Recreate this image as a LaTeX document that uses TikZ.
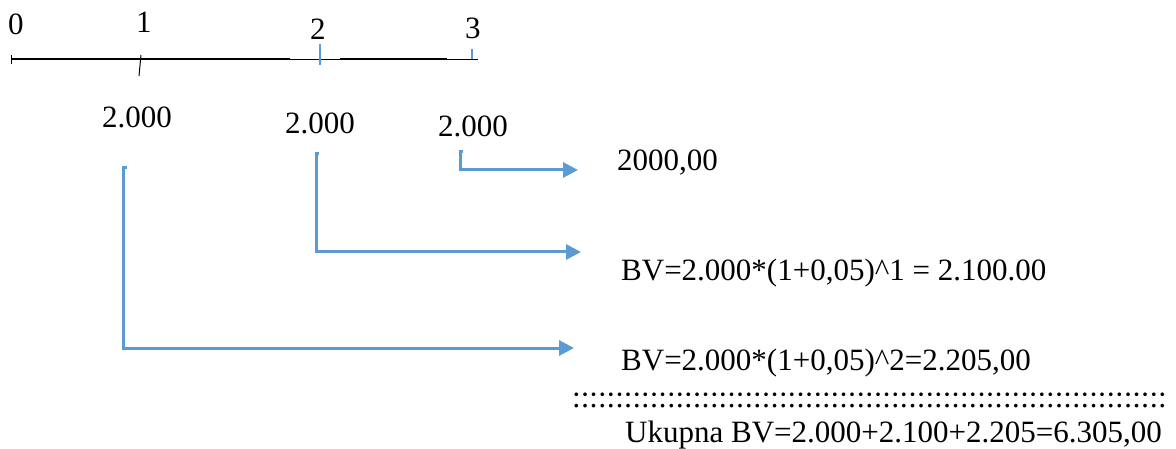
\documentclass[tikz,border=0pt]{standalone}
\usepackage{fontspec}
\setmainfont{Liberation Serif}
\usetikzlibrary{arrows.meta, positioning, calc}
\definecolor{flowblue}{RGB}{91,155,213}

\begin{document}
\begin{tikzpicture}[x=1pt, y=-1pt, every node/.style={font=\fontsize{31}{37}\selectfont, inner sep=0pt, anchor=base west},
  flow/.style={draw=flowblue, line width=3pt, -{Triangle[length=15pt,width=15pt]}},
  tick/.style={draw=flowblue, line width=2pt}]
\useasboundingbox (0,0) rectangle (1176,449);

% time axis
\coordinate (p0) at (11,59);
\coordinate (p1) at (140,59);
\coordinate (p2) at (320,59);
\coordinate (p3) at (472,59);
\draw[line width=1.6pt] (p0) -- (290,59);
\draw[line width=0.8pt] (290,59) -- (340,59);
\draw[line width=1.6pt] (340,59) -- (447,59);
\draw[line width=0.8pt] (447,59) -- (478,59);
\draw[line width=1pt] ([yshift=-5pt]p0) -- ([yshift=4pt]p0);
\draw[line width=1pt] (141,55) -- (139,76);
\draw[tick] ([yshift=-6pt]p2) -- ([yshift=15pt]p2);
\draw[tick] (p3) -- ([yshift=10pt]p3);

\node (t0) at (8,35) {0};
\node (t1) at (136,33) {1};
\node (t2) at (310,40) {2};
\node (t3) at (465,39) {3};

% payments
\node (a1) at (102,128) {2.000};
\node (a2) at (285,134) {2.000};
\node (a3) at (438,137) {2.000};

% results
\node (r3) at (617,171) {2000,00};
\node (r2) at (621,280) {BV=2.000*(1+0,05)\^{}1 = 2.100.00};
\node (r1) at (621,370) {BV=2.000*(1+0,05)\^{}2=2.205,00};
\node (dots) at (572,407) {:::::::::::::::::::::::::::::::::::::::::::::::::::::::::::::::::::::};
\node (total) at (625,442) {Ukupna BV=2.000+2.100+2.205=6.305,00};

\coordinate (s3) at (460,152);
\coordinate (e3) at (578,170);
\coordinate (s2) at (316,154);
\coordinate (e2) at (581,252);
\coordinate (s1) at (123,168);
\coordinate (e1) at (574,348);
\draw[flow] ([xshift=3pt]s3) -- (s3) |- (e3);
\draw[flow] ([xshift=3pt]s2) -- (s2) |- (e2);
\draw[flow] ([xshift=4pt]s1) -- (s1) |- (e1);
\end{tikzpicture}
\end{document}
